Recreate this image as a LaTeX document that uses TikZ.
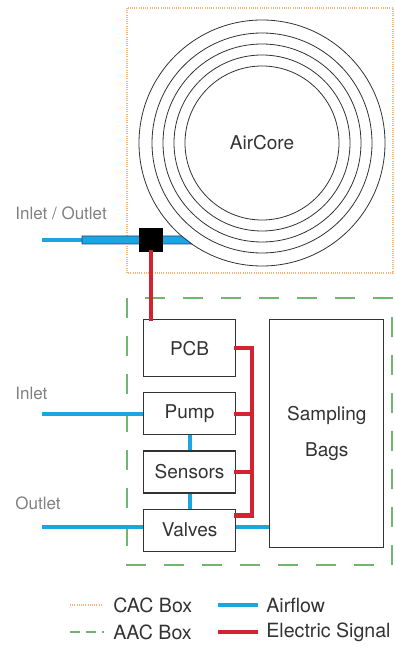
\documentclass[tikz,border=0pt]{standalone}
\usepackage{fontspec}
\setmainfont{TeX Gyre Heros}
\usetikzlibrary{positioning}
\definecolor{FlowBlue}{HTML}{1AA7E1}
\definecolor{WireRed}{HTML}{D12330}
\definecolor{CacOrange}{HTML}{F3B57A}
\definecolor{AacGreen}{HTML}{72B472}
\definecolor{TubeNavy}{HTML}{2B3F7A}
\definecolor{LabelGray}{HTML}{808080}
\definecolor{InkGray}{HTML}{333333}

\begin{document}
\begin{tikzpicture}[x=0.5pt, y=-0.5pt,
        node distance = 7.5pt and 16.5pt, % gap between the boxes
        unit/.style    = {rectangle, draw=InkGray, line width=0.6pt, minimum width=46pt, minimum height=21pt,
                          inner sep=0pt, text=InkGray, font=\fontsize{9.5}{11}\selectfont},
        bagbox/.style  = {unit, minimum width=57pt, minimum height=114pt, align=center,
                          font=\fontsize{9.5}{18}\selectfont},
        portlabel/.style = {anchor=west, inner sep=0pt, text=LabelGray, font=\fontsize{8.5}{10}\selectfont},
        legtext/.style = {anchor=west, inner sep=0pt, text=InkGray, font=\fontsize{9.8}{12}\selectfont},
        % --- line styles ---
        cacbox/.style  = {draw=CacOrange, line width=0.6pt, dash pattern=on 0.5pt off 0.6pt},
        aacbox/.style  = {draw=AacGreen, line width=0.6pt, dash pattern=on 10pt off 9pt},
        coil/.style    = {draw=InkGray, line width=0.4pt},
        airflow/.style = {draw=FlowBlue, line width=2pt},
        signal/.style  = {draw=WireRed, line width=2.2pt, line cap=rect}
    ]
    \useasboundingbox (0,0) rectangle (395,657);

    % --- CAC box with the AirCore ---
    \draw[cacbox] (127,8) rectangle (393,273);
    \node[text=InkGray, font=\fontsize{9.5}{11}\selectfont] (core) at (262,143) {AirCore};
    \foreach \r in {38.5,44,49.5,55,61.5}
        \draw[coil] (core.center) circle[radius=\r pt];

    % tube leaving the coil
    \coordinate (portend) at (42,240);
    \node[portlabel] (portlbl) at (15,213) {Inlet / Outlet};
    \draw[airflow] (portend) -- (82,240);
    \draw[draw=TubeNavy, line width=0.4pt, fill=FlowBlue] (82,236) -- (181.5,236) -- (191.8,244) -- (82,244) -- cycle;
    \node[fill=black, inner sep=0pt, minimum size=12pt] (joint) at (151,240) {};

    % --- AAC box ---
    \draw[aacbox] (127,298) rectangle (392,565);

    \node[unit, minimum height=28.5pt, anchor=north west] (pcb) at (143,319) {PCB};
    \node[unit, below=of pcb] (pump) {Pump};
    \node[unit, below=of pump] (sensors) {Sensors};
    \node[unit, below=of sensors] (valves) {Valves};
    \node[bagbox, right=of pcb.north east, anchor=north west] (bags) {Sampling\\Bags};

    % inlet / outlet lines
    \coordinate (inletend) at (42,414);
    \coordinate (outletend) at (42,527);
    \node[portlabel] (inletlbl) at (15,393) {Inlet};
    \node[portlabel] (outletlbl) at (15,503) {Outlet};

    % Airflow
    \draw[airflow] (inletend) -- (inletend -| pump.west);
    \draw[airflow] (outletend) -- (outletend -| valves.west);
    \draw[airflow] (pump) -- (sensors);
    \draw[airflow] (sensors) -- (valves);
    \draw[airflow] (outletend -| valves.east) -- (outletend -| bags.west);

    % Electric signal
    \coordinate[right=8pt of pcb.east] (bustop);
    \coordinate (vtap) at ([yshift=-3.5pt]valves.north east);
    \draw[signal] (joint.south) -- (joint.south |- pcb.north);
    \draw[signal] (pcb.east) -- (bustop) |- (vtap);
    \draw[signal] (pump.east) -- (pump.east -| bustop);
    \draw[signal] (sensors.east) -- (sensors.east -| bustop);

    % --- Legend ---
    \node[legtext] (cactxt) at (113,605) {CAC Box};
    \node[legtext] (aactxt) at (113,632) {AAC Box};
    \node[legtext] (flowtxt) at (266,605) {Airflow};
    \node[legtext] (sigtxt) at (266,632) {Electric Signal};
    \coordinate (cackey) at (70,605);
    \coordinate (aackey) at (70,632);
    \coordinate (flowkey) at (218,605);
    \coordinate (sigkey) at (218,632);
    \draw[cacbox] (cackey) -- ([xshift=-5pt]cactxt.west);
    \draw[aacbox, dash pattern=on 5pt off 3pt] (aackey) -- ([xshift=-4.5pt]aactxt.west);
    \draw[airflow] (flowkey) -- ([xshift=-4pt]flowtxt.west);
    \draw[signal, line cap=butt] (sigkey) -- ([xshift=-4pt]sigtxt.west);

\end{tikzpicture}
\end{document}
